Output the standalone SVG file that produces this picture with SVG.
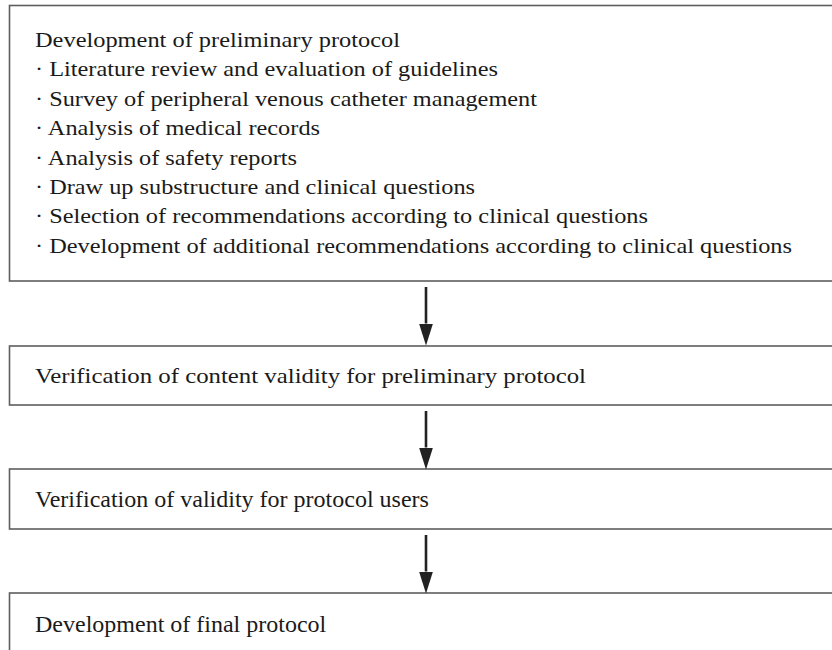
<svg xmlns="http://www.w3.org/2000/svg" width="832" height="650" viewBox="0 0 832 650">
<style>
.box{fill:#ffffff;stroke:#5e5e5e;stroke-width:1.6}
.t{font-family:"Liberation Serif","Times New Roman",serif;font-size:21.5px;fill:#1a1a1a}
.tc{font-family:"Liberation Serif","Times New Roman",serif;font-size:24px;fill:#1a1a1a}
.shaft{stroke:#222222;stroke-width:2.6;fill:none}
</style>
<defs>
<marker id="ah" markerWidth="22" markerHeight="14" refX="0" refY="7" orient="auto" markerUnits="userSpaceOnUse" viewBox="0 0 22 14">
<path d="M0,0 L22,7 L0,14 Z" fill="#222222"/>
</marker>
</defs>
<rect width="832" height="650" fill="#ffffff"/>
<g id="node1">
<rect class="box" x="9.5" y="5.5" width="840" height="275.5"/>
<text class="t" x="35" y="47" textLength="365" lengthAdjust="spacingAndGlyphs">Development of preliminary protocol</text>
<text class="t" x="35" y="76.4" textLength="463" lengthAdjust="spacingAndGlyphs">· Literature review and evaluation of guidelines</text>
<text class="t" x="35" y="105.8" textLength="502" lengthAdjust="spacingAndGlyphs">· Survey of peripheral venous catheter management</text>
<text class="t" x="35" y="135.2" textLength="285" lengthAdjust="spacingAndGlyphs">· Analysis of medical records</text>
<text class="t" x="35" y="164.6" textLength="262" lengthAdjust="spacingAndGlyphs">· Analysis of safety reports</text>
<text class="t" x="35" y="194" textLength="440" lengthAdjust="spacingAndGlyphs">· Draw up substructure and clinical questions</text>
<text class="t" x="35" y="223.4" textLength="613" lengthAdjust="spacingAndGlyphs">· Selection of recommendations according to clinical questions</text>
<text class="t" x="35" y="252.8" textLength="757" lengthAdjust="spacingAndGlyphs">· Development of additional recommendations according to clinical questions</text>
</g>
<g id="node2">
<rect class="box" x="9.5" y="346" width="840" height="59"/>
<text class="t" x="35" y="383" textLength="551" lengthAdjust="spacingAndGlyphs">Verification of content validity for preliminary protocol</text>
</g>
<g id="node3">
<rect class="box" x="9.5" y="469" width="840" height="60"/>
<text class="tc" x="35" y="507">Verification of validity for protocol users</text>
</g>
<g id="node4">
<rect class="box" x="9.5" y="593" width="840" height="80"/>
<text class="tc" x="35" y="631.5">Development of final protocol</text>
</g>
<g id="connectors">
<line class="shaft" x1="426" y1="287" x2="426" y2="323.5" marker-end="url(#ah)"/>
<line class="shaft" x1="426" y1="411" x2="426" y2="447.5" marker-end="url(#ah)"/>
<line class="shaft" x1="426" y1="535" x2="426" y2="571.5" marker-end="url(#ah)"/>
</g>
</svg>
